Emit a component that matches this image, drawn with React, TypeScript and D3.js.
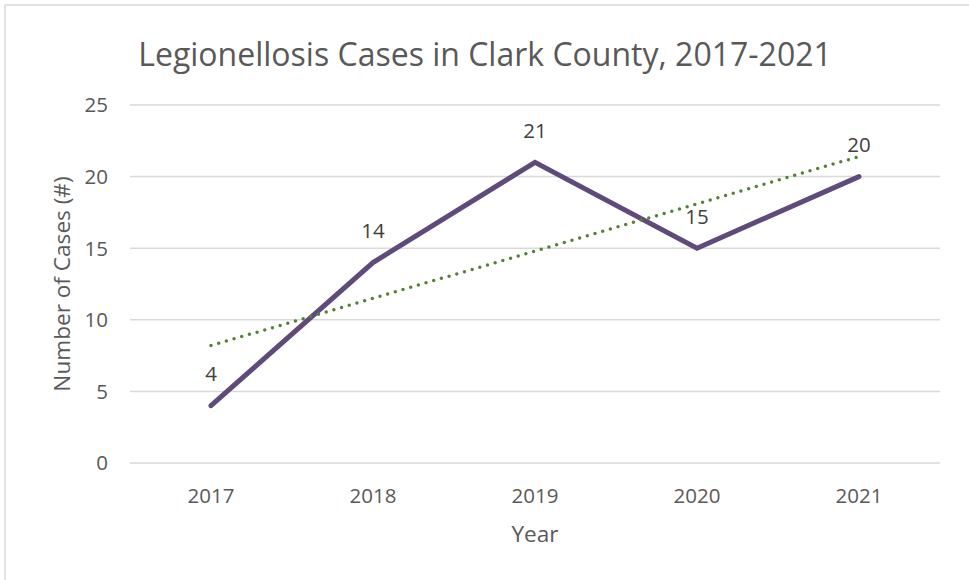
import React from "react";
import * as d3 from "d3";

const years = ["2017", "2018", "2019", "2020", "2021"];
const cases = [4, 14, 21, 15, 20];
const yTicks = [0, 5, 10, 15, 20, 25];
const title = "Legionellosis Cases in Clark County, 2017-2021";
const xTitle = "Year";
const yTitle = "Number of Cases (#)";

const W = 969;
const H = 580;
const FONT = "'Open Sans', sans-serif";

export default function App() {
  const plot = { left: 130, right: 940, top: 105, bottom: 463 };
  const x = d3.scaleBand<string>().domain(years).range([plot.left, plot.right]);
  const cx = (c: string) => (x(c) as number) + x.bandwidth() / 2;
  const y = d3.scaleLinear().domain([0, 25]).range([plot.bottom, plot.top]);

  const pts: [number, number][] = years.map((yr, i) => [cx(yr), y(cases[i])]);
  const line = d3.line<[number, number]>().x((d) => d[0]).y((d) => d[1]);

  // linear trendline (least squares over category index)
  const idx = cases.map((_, i) => i + 1);
  const mx = d3.mean(idx) as number;
  const my = d3.mean(cases) as number;
  const slope =
    d3.sum(idx.map((v, i) => (v - mx) * (cases[i] - my))) /
    d3.sum(idx.map((v) => (v - mx) * (v - mx)));
  const icpt = my - slope * mx;
  const trend: [number, number][] = [
    [cx(years[0]), y(icpt + slope * 1)],
    [cx(years[years.length - 1]), y(icpt + slope * years.length)],
  ];

  return (
    <div style={{ position: "fixed", left: 0, top: 0 }}>
      <svg width={W} height={H} style={{ display: "block", background: "#fff" }}>
        <rect x={5} y={5} width={990} height={620} fill="#fff" stroke="#d9d9d9" strokeWidth={1.5} />
        <text x={485} y={66} textAnchor="middle" fontFamily={FONT} fontSize={32} fill="#595959">
          {title}
        </text>
        {yTicks.map((t) => (
          <g key={t}>
            <line x1={plot.left} x2={plot.right} y1={y(t)} y2={y(t)} stroke="#d9d9d9" strokeWidth={1.5} />
            <text
              x={108}
              y={y(t)}
              dy="0.36em"
              textAnchor="end"
              fontFamily={FONT}
              fontSize={20.5}
              fill="#595959"
            >
              {t}
            </text>
          </g>
        ))}
        {years.map((yr) => (
          <text key={yr} x={cx(yr)} y={503} textAnchor="middle" fontFamily={FONT} fontSize={20.5} fill="#595959">
            {yr}
          </text>
        ))}
        <text x={535} y={542} textAnchor="middle" fontFamily={FONT} fontSize={22.6} fill="#595959">
          {xTitle}
        </text>
        <text
          transform={`translate(70,284) rotate(-90)`}
          textAnchor="middle"
          fontFamily={FONT}
          fontSize={22.6}
          fill="#595959"
        >
          {yTitle}
        </text>
        <path
          d={line(pts) as string}
          fill="none"
          stroke="#604A7B"
          strokeWidth={5}
          strokeLinecap="round"
          strokeLinejoin="miter"
        />
        <path
          d={line(trend) as string}
          fill="none"
          stroke="#548235"
          strokeWidth={3.5}
          strokeLinecap="round"
          strokeDasharray="0 8"
        />
        {years.map((yr, i) => (
          <text
            key={yr}
            x={cx(yr)}
            y={y(cases[i]) - 24.5}
            textAnchor="middle"
            fontFamily={FONT}
            fontSize={20.5}
            fill="#404040"
          >
            {cases[i]}
          </text>
        ))}
      </svg>
    </div>
  );
}
